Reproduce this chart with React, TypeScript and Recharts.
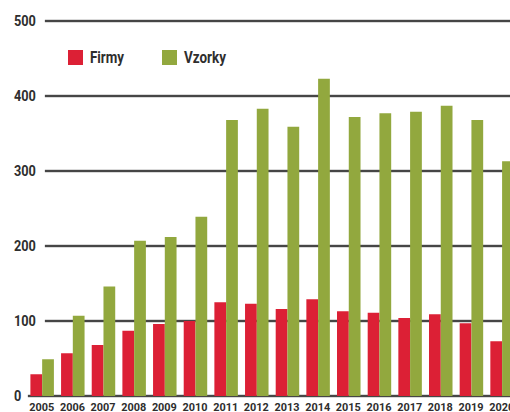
import { BarChart, Bar, XAxis, YAxis, CartesianGrid, Legend } from 'recharts';

const years = ['2005', '2006', '2007', '2008', '2009', '2010', '2011', '2012', '2013', '2014', '2015', '2016', '2017', '2018', '2019', '2020'];
const firmy = [29, 57, 68, 87, 96, 100, 125, 123, 116, 129, 113, 111, 104, 109, 97, 73];
const vzorky = [49, 107, 146, 207, 212, 239, 368, 383, 359, 423, 372, 377, 379, 387, 368, 313];
const yTicks = [0, 100, 200, 300, 400, 500];

const RED = '#dc2035';
const GREEN = '#92a83e';
const FONT = 'Roboto, sans-serif';
const INK = '#2e2e2e';

const data = years.map((y, i) => ({ year: y, firmy: firmy[i], vzorky: vzorky[i] }));

// grid lines begin right of the tick labels, except the baseline
function GridLine(props: any) {
  const { x1, x2, y1, y2 } = props;
  const isBase = y1 > 390;
  const start = isBase ? x1 + 1.5 : x1 + 18.5;
  return (
    <g>
      <line x1={start} x2={x2} y1={y1} y2={y2} stroke="#b4b4b4" strokeWidth={3} />
      <line x1={start} x2={x2} y1={y1} y2={y2} stroke="#222" strokeWidth={isBase ? 1.6 : 1.3} />
    </g>
  );
}

// condensed look: squeeze Roboto bold to the reference widths
function YTick(props: any) {
  const { y, payload } = props;
  const s = String(payload.value);
  return (
    <text x={14} y={y + 5} fontFamily={FONT} fontWeight="bold" fontSize={14} fill={INK}
      textLength={s.length * 7.3} lengthAdjust="spacingAndGlyphs">
      {s}
    </text>
  );
}

function XTick(props: any) {
  const { x, payload } = props;
  return (
    <text x={x - 12.5} y={410.5} fontFamily={FONT} fontWeight="bold" fontSize={11.5} fill={INK}
      textLength={25} lengthAdjust="spacingAndGlyphs">
      {payload.value}
    </text>
  );
}

function LegendBox() {
  return (
    <svg width={170} height={22}>
      <rect x={0} y={2} width={15} height={15} fill={RED} />
      <text x={22} y={15} fontFamily={FONT} fontWeight="bold" fontSize={16} fill={INK}
        textLength={34} lengthAdjust="spacingAndGlyphs">Firmy</text>
      <rect x={94} y={2} width={15} height={15} fill={GREEN} />
      <text x={116} y={15} fontFamily={FONT} fontWeight="bold" fontSize={16} fill={INK}
        textLength={42} lengthAdjust="spacingAndGlyphs">Vzorky</text>
    </svg>
  );
}

export default function App() {
  return (
    <div style={{ position: 'absolute', left: 0, top: 0, width: 510, height: 412, overflow: 'hidden', background: '#fff' }}>
      <BarChart
        width={517}
        height={412}
        data={data}
        margin={{ top: 21, right: 0, left: 0, bottom: 0 }}
        barGap={0}
        barSize={11.75}
      >
        <CartesianGrid vertical={false} horizontal={(p: any) => <GridLine key={p.key} {...p} />} />
        <XAxis dataKey="year" axisLine={false} tickLine={false} height={16} interval={0} tick={<XTick />} />
        <YAxis width={26.4} domain={[0, 500]} ticks={yTicks} axisLine={false} tickLine={false} tick={<YTick />} />
        <Legend
          layout="horizontal"
          verticalAlign="middle"
          align="center"
          content={<LegendBox />}
          wrapperStyle={{ position: 'absolute', top: 48, left: 68, width: 170 }}
        />
        <Bar dataKey="firmy" fill={RED} isAnimationActive={false} />
        <Bar dataKey="vzorky" fill={GREEN} isAnimationActive={false} />
      </BarChart>
    </div>
  );
}
